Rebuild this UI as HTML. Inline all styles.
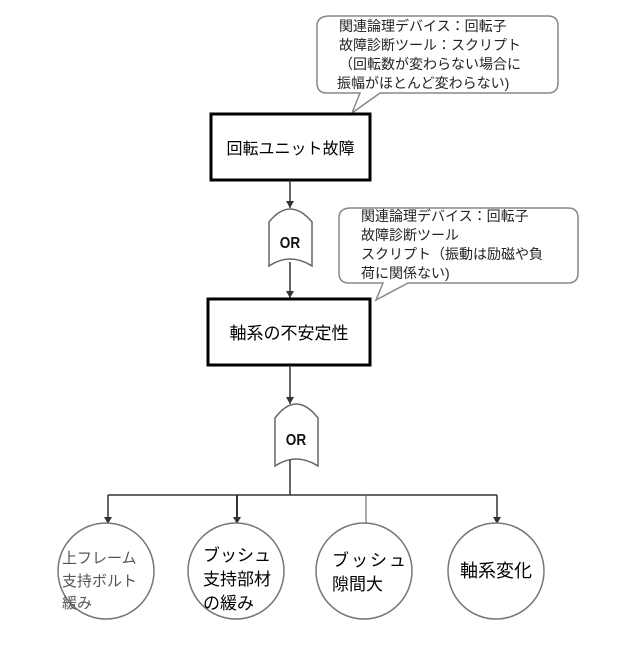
<!DOCTYPE html>
<html><head><meta charset="utf-8"><style>
body{margin:0;background:#fff;width:640px;height:640px;overflow:hidden}
svg text{font-family:"Liberation Sans","Noto Sans CJK JP",sans-serif}
</style></head><body>
<svg width="640" height="640" viewBox="0 0 640 640" xmlns="http://www.w3.org/2000/svg">
<defs><marker id="a" markerWidth="8" markerHeight="8" refX="7" refY="4" orient="auto" markerUnits="userSpaceOnUse"><path d="M0,0 L7,4 L0,8 z" fill="#333"/></marker></defs>
<path d="M330,16 H548 Q558,16 558,26 V83 Q558,93 548,93 H380 L352,113 L360,93 H327 Q317,93 317,83 V26 Q317,16 330,16 Z" fill="#fff" stroke="#888" stroke-width="1.5"/>
<g font-size="14" fill="#222">
<text x="339" y="31">関連論理デバイス：回転子</text>
<text x="339" y="50">故障診断ツール：スクリプト</text>
<text x="339" y="69">（回転数が変わらない場合に</text>
<text x="337" y="88">振幅がほとんど変わらない)</text>
</g>
<rect x="211" y="114" width="159" height="66" fill="#fff" stroke="#000" stroke-width="3"/>
<text x="290.5" y="154" font-size="16" text-anchor="middle" fill="#000">回転ユニット故障</text>
<line x1="290" y1="180" x2="290" y2="208" stroke="#333" stroke-width="1.5" marker-end="url(#a)"/>
<path d="M269,222 Q290,196 312,222 V266 Q290,252 269,266 Z" fill="#fff" stroke="#666" stroke-width="1.5"/>
<text x="290" y="248" font-size="16" font-weight="bold" text-anchor="middle" fill="#111" transform="translate(290 0) scale(0.85 1) translate(-290 0)">OR</text>
<line x1="290" y1="262" x2="290" y2="298" stroke="#333" stroke-width="1.5" marker-end="url(#a)"/>
<path d="M351,208 H568 Q578,208 578,218 V273 Q578,283 568,283 H408 L376,300 L383,283 H349 Q339,283 339,273 V218 Q339,208 351,208 Z" fill="#fff" stroke="#888" stroke-width="1.5"/>
<g font-size="14" fill="#222">
<text x="361" y="221">関連論理デバイス：回転子</text>
<text x="361" y="240">故障診断ツール</text>
<text x="361" y="259">スクリプト（振動は励磁や負</text>
<text x="361" y="278">荷に関係ない)</text>
</g>
<rect x="208" y="299" width="162" height="66" fill="#fff" stroke="#000" stroke-width="3"/>
<text x="289" y="339" font-size="17" text-anchor="middle" fill="#000">軸系の不安定性</text>
<line x1="290" y1="365" x2="290" y2="404" stroke="#333" stroke-width="1.5" marker-end="url(#a)"/>
<path d="M275,418 Q296,390 318,418 V466 Q296,452 275,466 Z" fill="#fff" stroke="#666" stroke-width="1.5"/>
<text x="296" y="445" font-size="16" font-weight="bold" text-anchor="middle" fill="#111" transform="translate(296 0) scale(0.85 1) translate(-296 0)">OR</text>
<line x1="290" y1="460" x2="290" y2="495" stroke="#333" stroke-width="1.5"/>
<line x1="108" y1="495" x2="497" y2="495" stroke="#333" stroke-width="1.5"/>
<line x1="108" y1="495" x2="108" y2="524" stroke="#333" stroke-width="1.5" marker-end="url(#a)"/>
<line x1="237" y1="495" x2="237" y2="524" stroke="#333" stroke-width="2" marker-end="url(#a)"/>
<line x1="366" y1="495" x2="366" y2="524" stroke="#555" stroke-width="1"/>
<line x1="497" y1="495" x2="497" y2="524" stroke="#333" stroke-width="1.5" marker-end="url(#a)"/>
<g fill="#fff" stroke="#777" stroke-width="1.5">
<circle cx="106" cy="571" r="48"/><circle cx="236" cy="571" r="48"/>
<circle cx="364" cy="571" r="48"/><circle cx="496" cy="571" r="48"/>
</g>
<g font-size="15" fill="#555"><text x="62" y="563">上フレーム</text><text x="62" y="586">支持ボルト</text><text x="62" y="608">緩み</text></g>
<g font-size="17" fill="#000"><text x="203" y="561">ブッシュ</text><text x="203" y="585">支持部材</text><text x="203" y="609">の緩み</text></g>
<g font-size="17" fill="#000"><text x="332" y="566" letter-spacing="2">ブッシュ</text><text x="332" y="590">隙間大</text></g>
<text x="496" y="577" font-size="18" text-anchor="middle" fill="#000">軸系変化</text>
</svg>
</body></html>
